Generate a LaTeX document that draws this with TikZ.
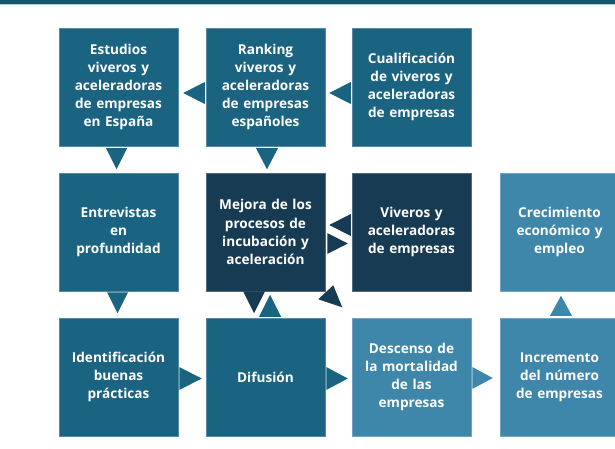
\documentclass[tikz,border=0pt]{standalone}
\usepackage{fontspec}
\setmainfont{Open Sans}
\usetikzlibrary{calc}
\definecolor{cmed}{HTML}{1A6482}
\definecolor{cdark}{HTML}{173B52}
\definecolor{clight}{HTML}{3E87AB}
\definecolor{cbar}{HTML}{15566D}
\definecolor{cbarline}{HTML}{A9CFE0}
\begin{document}
\begin{tikzpicture}[x=1pt,y=-1pt,
  box/.style={minimum width=119pt,minimum height=118pt,inner sep=2pt,text width=114pt,align=center,
    text=white,font=\bfseries\fontsize{13.6}{18.2}\selectfont,draw=#1!75!white,line width=0.5pt,fill=#1},
  tri/.style={fill=#1,draw=none}]
\useasboundingbox (0,0) rectangle (615,449);
\fill[white] (0,0) rectangle (615,449);
\fill[cbar] (0,0) rectangle (615,4.5);
\fill[cbarline] (0,4.5) rectangle (615,5.5);
% row 1
\node[box=cmed] (estudios) at (118.5,87) {Estudios\\viveros y\\aceleradoras\\de empresas\\en España};
\node[box=cmed] (ranking) at (265.5,87) {Ranking\\viveros y\\aceleradoras\\de empresas\\españoles};
\node[box=cmed] (cualif) at (411.5,87) {Cualificación\\de viveros y\\aceleradoras\\de empresas};
% row 2
\node[box=cmed] (entrev) at (118.5,232) {Entrevistas\\en\\profundidad};
\node[box=cdark] (mejora) at (265.5,232) {Mejora de los\\procesos de\\incubación y\\aceleración};
\node[box=cdark] (viveros) at (411.5,232) {Viveros y\\aceleradoras\\de empresas};
\node[box=clight] (crec) at (559.5,232) {Crecimiento\\económico y\\empleo};
% row 3
\node[box=cmed] (ident) at (118.5,377) {Identificación\\buenas\\prácticas};
\node[box=cmed] (difus) at (265.5,377) {Difusión};
\node[box=clight] (desc) at (411.5,377) {Descenso de\\la mortalidad\\de las\\empresas};
\node[box=clight] (incr) at (559.5,377) {Incremento\\del número\\de empresas};
% connectors (triangles)
\fill[tri=cmed] ($(estudios.east)+(5,6)$) -- ($(ranking.west)+(-1,-5)$) -- ($(ranking.west)+(-1,17)$) -- cycle;
\fill[tri=cmed] ($(ranking.east)+(4,6)$) -- ($(cualif.west)+(-1,-5)$) -- ($(cualif.west)+(-1,17)$) -- cycle;
\fill[tri=cmed] ($(estudios.south)+(-12.5,2)$) -- ($(estudios.south)+(8.5,2)$) -- ($(estudios.south)+(-2,23)$) -- cycle;
\fill[tri=cmed] ($(ranking.south)+(-9.5,2)$) -- ($(ranking.south)+(12.5,2)$) -- ($(ranking.south)+(1.5,23)$) -- cycle;
\fill[tri=cdark] ($(mejora.east)+(4,-7)$) -- ($(viveros.west)+(-1,-18)$) -- ($(viveros.west)+(-1,4)$) -- cycle;
\fill[tri=cdark] ($(mejora.east)+(2,1)$) -- ($(mejora.east)+(2,22)$) -- ($(viveros.west)+(-4,11.5)$) -- cycle;
\fill[tri=cdark] ($(mejora.south)+(-22.5,0)$) -- ($(mejora.south)+(-0.5,0)$) -- ($(mejora.south)+(-11.5,22)$) -- cycle;
\fill[tri=cmed] ($(difus.north)+(-6.5,-1)$) -- ($(difus.north)+(15.5,-1)$) -- ($(difus.north)+(4.5,-23)$) -- cycle;
\fill[tri=cdark] ($(mejora.south east)+(-7,8)$) -- ($(mejora.south east)+(8,-6)$) -- ($(mejora.south east)+(17,16)$) -- cycle;
\fill[tri=cmed] ($(entrev.south)+(-11.5,1)$) -- ($(entrev.south)+(9.5,1)$) -- ($(entrev.south)+(-1,22)$) -- cycle;
\fill[tri=cmed] ($(ident.east)+(1,-10)$) -- ($(ident.east)+(1,13)$) -- ($(difus.west)+(-4,1.5)$) -- cycle;
\fill[tri=cmed] ($(difus.east)+(1,-10)$) -- ($(difus.east)+(1,13)$) -- ($(desc.west)+(-4,1.5)$) -- cycle;
\fill[tri=clight] ($(desc.east)+(1,-10)$) -- ($(desc.east)+(1,12)$) -- ($(incr.west)+(-7,1)$) -- cycle;
\fill[tri=clight] ($(incr.north)+(-9.5,-2)$) -- ($(incr.north)+(12.5,-2)$) -- ($(incr.north)+(1.5,-22)$) -- cycle;
\end{tikzpicture}
\end{document}
